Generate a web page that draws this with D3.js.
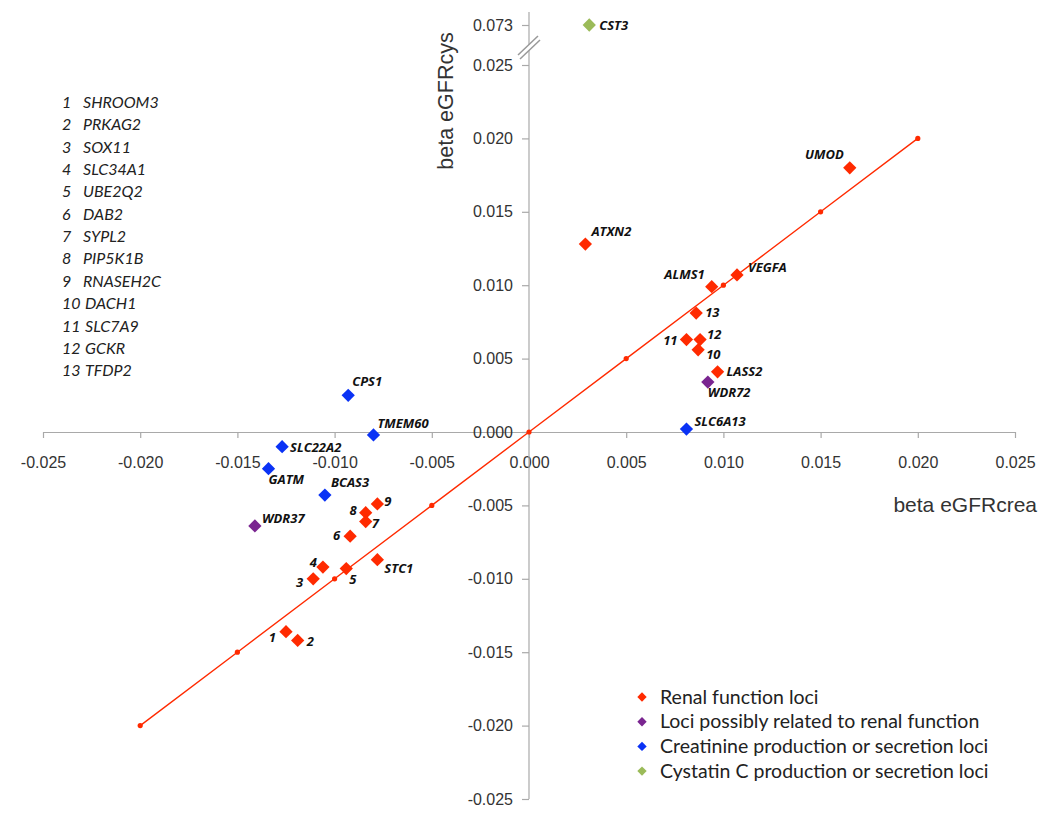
<!DOCTYPE html>
<html><head><meta charset="utf-8">
<script src="https://cdn.jsdelivr.net/npm/d3@7"></script>
<style>
html,body{margin:0;padding:0;background:#fff;}
svg{display:block;}
</style></head>
<body>
<svg id="chart" width="1050" height="818"></svg>
<script>
// ---- data ----
const pointLabels = ["CST3","UMOD","ATXN2","VEGFA","ALMS1","13","11","12","10","LASS2","WDR72","SLC6A13",
  "CPS1","TMEM60","SLC22A2","GATM","BCAS3","WDR37","9","8","7","6","STC1","4","3","5","1","2"];
const betaCrea = [0.0031,0.0165,0.0029,0.0107,0.0094,0.0086,0.0081,0.0088,0.0087,0.0097,0.0092,0.0081,
  -0.0093,-0.0080,-0.0127,-0.0134,-0.0105,-0.0141,-0.0078,-0.0084,-0.0084,-0.0092,-0.0078,-0.0106,-0.0111,-0.0094,-0.0125,-0.0119];
const betaCys = [0.073,0.0180,0.0128,0.0107,0.0099,0.0081,0.0063,0.0063,0.0056,0.0041,0.0034,0.0002,
  0.0025,-0.0002,-0.0010,-0.0025,-0.0043,-0.0064,-0.0049,-0.0055,-0.0061,-0.0071,-0.0087,-0.0092,-0.0100,-0.0093,-0.0136,-0.0142];
const pointGroup = [3,0,0,0,0,0,0,0,0,0,1,2, 2,2,2,2,2,1,0,0,0,0,0,0,0,0,0,0];

const groupNames = ["Renal function loci","Loci possibly related to renal function",
  "Creatinine production or secretion loci","Cystatin C production or secretion loci"];
const groupColors = ["#ff2a00","#7a2590","#0a32f5","#9bbb59"];

const xTicks = [-0.025,-0.020,-0.015,-0.010,-0.005,0,0.005,0.010,0.015,0.020,0.025];
const yTicks = [-0.025,-0.020,-0.015,-0.010,-0.005,0,0.005,0.010,0.015,0.020,0.025,0.073];
const identityLine = [-0.020,-0.015,-0.010,-0.005,0,0.005,0.010,0.015,0.020];

const lociNumbers = ["1","2","3","4","5","6","7","8","9","10","11","12","13"];
const lociNames = ["SHROOM3","PRKAG2","SOX11","SLC34A1","UBE2Q2","DAB2","SYPL2","PIP5K1B","RNASEH2C","DACH1","SLC7A9","GCKR","TFDP2"];

// label layout (dx, dy relative to point, anchor)
const labelLayout = [
  [10,5,"start"],[-6,-9,"end"],[6,-8,"start"],[11,-3,"start"],[-7,-8,"end"],[9,4,"start"],[-9,5,"end"],[7,-1,"start"],[8,9,"start"],[9,4,"start"],[0,15,"start"],[8,-3,"start"],
  [4,-9,"start"],[4,-7,"start"],[8,5,"start"],[0,15,"start"],[6,-8,"start"],[7,-3,"start"],
  [7,2,"start"],[-9,2,"end"],[6,6,"start"],[-10,4,"end"],[7,13,"start"],[-6,0,"end"],[-10,8,"end"],[3,15,"start"],[-10,10,"end"],[9,6,"start"]
];

// ---- drawing ----
const svg = d3.select("#chart");
const x = d3.scaleLinear().domain([-0.025,0.025]).range([43,1015]);
const y = d3.scaleLinear().domain([-0.025,0.025,0.073]).range([799,65,25]);
const fmt = v => d3.format(".3f")(v).replace("\u2212","-");
const axisColor = "#a9a9a9";
const tickFont = "'Liberation Sans', Arial, sans-serif";

// x axis
const gx = svg.append("g").attr("transform",`translate(0,${y(0)})`)
  .call(d3.axisBottom(x).tickValues(xTicks).tickFormat(fmt).tickSize(6).tickPadding(19).tickSizeOuter(0));
// y axis
const gy = svg.append("g").attr("transform",`translate(${x(0)},0)`)
  .call(d3.axisLeft(y).tickValues(yTicks).tickFormat(fmt).tickSize(7).tickPadding(9).tickSizeOuter(0));
[gx,gy].forEach(g=>{
  g.select(".domain").attr("stroke",axisColor).attr("stroke-width",1.2);
  g.selectAll(".tick line").attr("stroke",axisColor).attr("stroke-width",1.2);
  g.selectAll(".tick text").attr("fill","#333").style("font-family",tickFont).style("font-size","16px");
});
gy.select(".domain").attr("d",`M0,12V${y(-0.025)}`);

// axis break
const bx = x(0), by = (y(0.025)+y(0.073))/2 + 2;
svg.append("path").attr("d",`M${bx-11},${by+8} L${bx+9},${by-11} L${bx+11},${by-7} L${bx-9},${by+12}Z`).attr("fill","#fff");
svg.append("line").attr("x1",bx-11).attr("y1",by+8).attr("x2",bx+9).attr("y2",by-11).attr("stroke","#999").attr("stroke-width",1.5);
svg.append("line").attr("x1",bx-9).attr("y1",by+12).attr("x2",bx+11).attr("y2",by-7).attr("stroke","#999").attr("stroke-width",1.5);

// axis titles
svg.append("text").attr("transform",`translate(453,101) rotate(-90)`).attr("text-anchor","middle")
  .style("font-family","'Liberation Sans', Arial, sans-serif").style("font-size","21.5px").attr("fill","#333").text("beta eGFRcys");
svg.append("text").attr("x",1037).attr("y",512).attr("text-anchor","end")
  .style("font-family","'Liberation Sans', Arial, sans-serif").style("font-size","21px").attr("fill","#333").text("beta eGFRcrea");

// identity line
svg.append("path").datum(identityLine).attr("fill","none").attr("stroke","#ff2a00").attr("stroke-width",1.4)
  .attr("d",d3.line().x(d=>x(d)).y(d=>y(d)));
svg.selectAll("circle.idm").data(identityLine).join("circle").attr("class","idm")
  .attr("cx",d=>x(d)).attr("cy",d=>y(d)).attr("r",2.6).attr("fill","#ff2a00");

// points
const diamond = d3.symbol().type(d3.symbolSquare).size(88);
const idx = d3.range(pointLabels.length);
svg.selectAll("path.pt").data(idx).join("path").attr("class","pt")
  .attr("d",diamond)
  .attr("transform",i=>`translate(${x(betaCrea[i])},${y(betaCys[i])}) rotate(45)`)
  .attr("fill",i=>groupColors[pointGroup[i]]);

svg.selectAll("text.pl").data(idx).join("text").attr("class","pl")
  .attr("x",i=>x(betaCrea[i])+labelLayout[i][0])
  .attr("y",i=>y(betaCys[i])+labelLayout[i][1])
  .attr("text-anchor",i=>labelLayout[i][2])
  .style("font-family","'Open Sans', sans-serif").style("font-size","13px")
  .style("font-weight","bold").style("font-style","italic").attr("fill","#111")
  .text(i=>pointLabels[i]);

// loci list
const list = svg.append("g").style("font-family","Lato, 'Open Sans', sans-serif").style("font-size","16px")
  .style("font-style","italic").attr("fill","#222");
lociNumbers.forEach((n,i)=>{
  const yy = 108 + i*22.35;
  list.append("text").attr("x",62).attr("y",yy).text(n);
  list.append("text").attr("x",i>=9?85:83).attr("y",yy).text(lociNames[i]);
});

// legend
const lg = svg.append("g");
groupNames.forEach((g,i)=>{
  const yy = 697 + i*24.7;
  lg.append("path").attr("d",d3.symbol().type(d3.symbolSquare).size(44))
    .attr("transform",`translate(642,${yy}) rotate(45)`).attr("fill",groupColors[i]);
  lg.append("text").attr("x",660).attr("y",yy+6.5).style("font-family","Lato, 'Open Sans', sans-serif")
    .style("font-size","19.5px").attr("fill","#222").text(g);
});
</script>
</body></html>
